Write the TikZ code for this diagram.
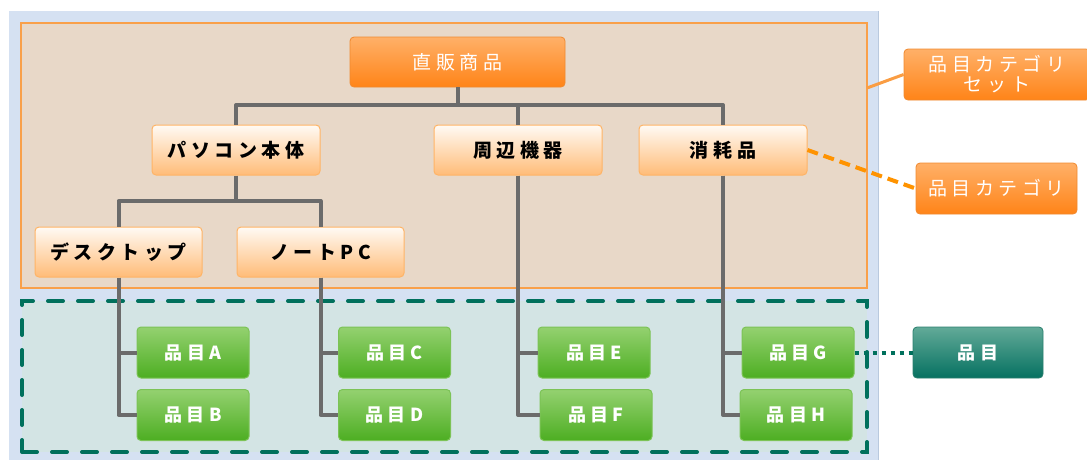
\documentclass[tikz,border=0pt]{standalone}
\usepackage{fontspec}
\newfontfamily\jp[LetterSpace=24]{Noto Sans CJK JP}
\definecolor{bgblue}{HTML}{D5E1F2}
\definecolor{bgline}{HTML}{B9C9DE}
\definecolor{setfill}{HTML}{E8D8C8}
\definecolor{setline}{HTML}{F9A04A}
\definecolor{itemfill}{HTML}{D3E4E4}
\definecolor{dgreen}{HTML}{00705C}
\definecolor{conn}{HTML}{6B6B6B}
\definecolor{lotop}{HTML}{FFFAF4}
\definecolor{lobot}{HTML}{FFBC78}
\definecolor{loline}{HTML}{FFB466}
\definecolor{dotop}{HTML}{FFB068}
\definecolor{dobot}{HTML}{FF8418}
\definecolor{doline}{HTML}{F08A30}
\definecolor{gtop}{HTML}{94D170}
\definecolor{gbot}{HTML}{4DAE22}
\definecolor{gline}{HTML}{7CC356}
\definecolor{ttop}{HTML}{62AA98}
\definecolor{tbot}{HTML}{067161}
\definecolor{tline}{HTML}{2A7F6E}
\begin{document}
\begin{tikzpicture}[x=1pt,y=-1pt,
  txt/.style={font=\jp\fontsize{19}{21}\selectfont},
  lightbox/.style={txt,font=\jp\bfseries\fontsize{19}{21}\selectfont,text=black,draw=loline,line width=1pt,rounded corners=4pt,
    top color=lotop,bottom color=lobot,minimum width=168pt,minimum height=50pt,inner sep=0pt},
  darkbox/.style={txt,text=white,draw=doline,line width=0.8pt,rounded corners=4pt,
    top color=dotop,bottom color=dobot,minimum height=51pt,inner sep=0pt,align=center},
  greenbox/.style={txt,font=\jp\bfseries\fontsize{18}{21}\selectfont,text=white,draw=gline,line width=1pt,rounded corners=4pt,
    top color=gtop,bottom color=gbot,minimum width=112pt,minimum height=51pt,inner sep=0pt},
  tealbox/.style={txt,font=\jp\bfseries\fontsize{18}{21}\selectfont,text=white,draw=tline,line width=0.8pt,rounded corners=4pt,
    top color=ttop,bottom color=tbot,minimum width=130pt,minimum height=51pt,inner sep=0pt},
  connector/.style={draw=conn,line width=4pt,line join=round},
  setregion/.style={fill=setfill,draw=setline,line width=1.8pt,minimum width=846pt,minimum height=265pt,inner sep=0pt},
  itemregion/.style={fill=itemfill,draw=dgreen,line width=4pt,line cap=round,dash pattern=on 15pt off 15pt,
    minimum width=845pt,minimum height=151pt,inner sep=0pt},
]
\useasboundingbox (0,0) rectangle (1087,459);
\fill[bgblue] (9,11) rectangle (878,470);
\draw[bgline,line width=0.8pt] (878,11) -- (878,470);

\node[setregion] (setrect) at (444,155.5) {};
\node[itemregion] (itemrect) at (444.5,376.5) {};

% nodes
\node[darkbox,minimum width=215pt,minimum height=50pt] (top) at (457.5,62) {直販商品};
\node[lightbox] (pc) at (236,150) {パソコン本体};
\node[lightbox] (per) at (518,150) {周辺機器};
\node[lightbox] (con) at (723,150) {消耗品};
\node[lightbox,minimum width=167pt] (desk) at (118.5,252) {デスクトップ};
\node[lightbox,minimum width=167pt] (note) at (320.5,252) {ノートPC};

\node[greenbox] (A) at (193,352.5) {品目A};
\node[greenbox] (B) at (193,415) {品目B};
\node[greenbox] (C) at (394.5,352.5) {品目C};
\node[greenbox] (D) at (394.5,415) {品目D};
\node[greenbox] (E) at (594,352.5) {品目E};
\node[greenbox] (F) at (596,415) {品目F};
\node[greenbox] (G) at (798,352.5) {品目G};
\node[greenbox] (H) at (796,415) {品目H};

\node[darkbox,minimum width=186pt,font=\jp\fontsize{19}{20}\selectfont] (catset) at (997,74.5) {品目カテゴリ\\セット};
\node[darkbox,minimum width=161pt] (cat) at (996.5,188.5) {品目カテゴリ};
\node[tealbox] (item) at (978,352.5) {品目};

% tree connectors
\coordinate (bar1) at (457.5,105);
\coordinate (bar2) at (236,201);
\draw[connector] (top.south) -- (bar1);
\draw[connector] (bar1) -| (pc.north);
\draw[connector] (bar1) -| (per.north);
\draw[connector] (bar1) -| (con.north);
\draw[connector] (pc.south) -- (bar2);
\draw[connector] (bar2) -| (desk.north);
\draw[connector] (bar2) -| (note.north);
\draw[connector] (desk.south) |- (A.west);
\draw[connector] (desk.south) |- (B.west);
\draw[connector] (note.south) |- (C.west);
\draw[connector] (note.south) |- (D.west);
\draw[connector] (per.south) |- (E.west);
\draw[connector] (per.south) |- (F.west);
\draw[connector] (con.south) |- (G.west);
\draw[connector] (con.south) |- (H.west);

% legend connectors
\coordinate (setpt) at (867,88);
\draw[setline!90!orange,line width=3pt] (setpt) -- (catset.west);
\draw[orange!85!yellow,line width=4pt,dash pattern=on 11pt off 6pt] (con.east) -- (cat.west);
\draw[dgreen,line width=4pt,dash pattern=on 4pt off 5pt] (G.east) -- (item.west);
\end{tikzpicture}
\end{document}
